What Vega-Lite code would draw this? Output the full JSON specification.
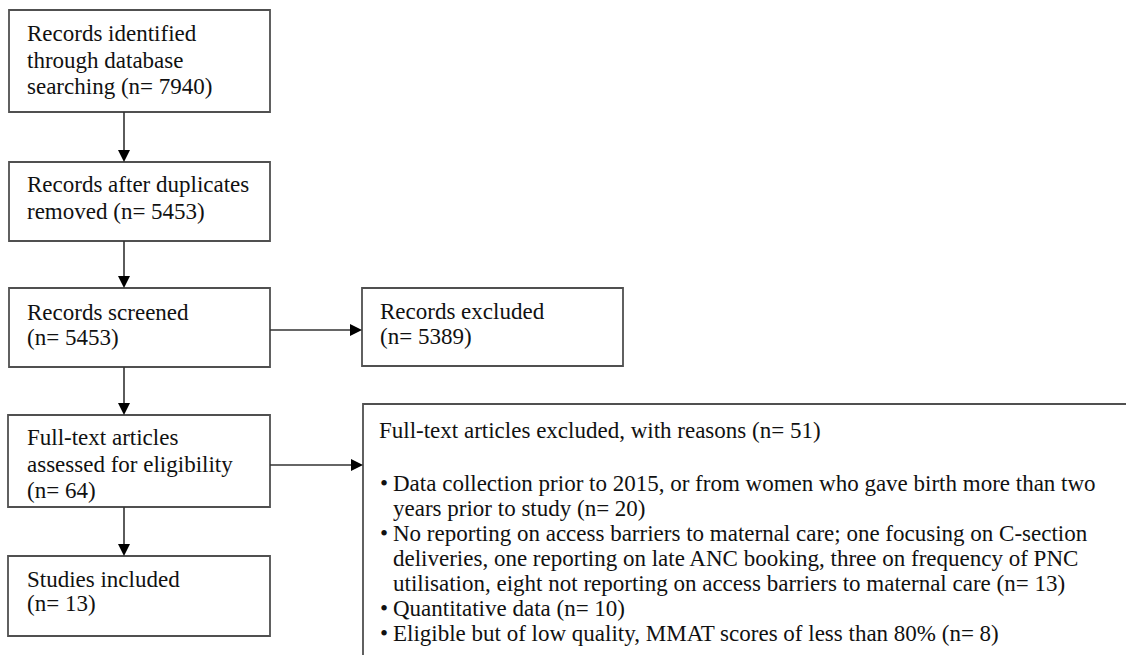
{
  "$schema": "https://vega.github.io/schema/vega-lite/v6.json",
  "width": 1126,
  "height": 655,
  "autosize": {"type": "fit", "contains": "padding"},
  "padding": 0,
  "background": "white",
  "config": {"view": {"stroke": null}},
  "datasets": {
    "boxes": [
      {"id": "identified", "x": 9, "x2": 270, "y": 10, "y2": 112},
      {"id": "dedup", "x": 9, "x2": 270, "y": 162, "y2": 241},
      {"id": "screened", "x": 9, "x2": 270, "y": 288, "y2": 367},
      {"id": "excluded", "x": 362, "x2": 623, "y": 288, "y2": 366},
      {"id": "fulltext", "x": 8, "x2": 270, "y": 415, "y2": 507},
      {"id": "included", "x": 8, "x2": 270, "y": 556, "y2": 636},
      {"id": "reasons", "x": 363, "x2": 1150, "y": 404, "y2": 680}
    ],
    "links": [
      {"from": "identified", "to": "dedup", "x": 124, "x2": 124, "y": 112, "y2": 156},
      {"from": "dedup", "to": "screened", "x": 124, "x2": 124, "y": 241, "y2": 282},
      {"from": "screened", "to": "fulltext", "x": 124, "x2": 124, "y": 367, "y2": 409},
      {"from": "fulltext", "to": "included", "x": 124, "x2": 124, "y": 507, "y2": 550},
      {"from": "screened", "to": "excluded", "x": 270, "x2": 356, "y": 330, "y2": 330},
      {"from": "fulltext", "to": "reasons", "x": 270, "x2": 357, "y": 465, "y2": 465}
    ],
    "heads": [
      {"dir": "down", "x": 124, "y": 156},
      {"dir": "down", "x": 124, "y": 282},
      {"dir": "down", "x": 124, "y": 409},
      {"dir": "down", "x": 124, "y": 550},
      {"dir": "right", "x": 356, "y": 330},
      {"dir": "right", "x": 357, "y": 465}
    ],
    "labels": [
      {"box": "identified", "x": 27, "y": 34, "text": "Records identified"},
      {"box": "identified", "x": 27, "y": 61, "text": "through database"},
      {"box": "identified", "x": 27, "y": 87, "text": "searching (n= 7940)"},
      {"box": "dedup", "x": 27, "y": 185, "text": "Records after duplicates"},
      {"box": "dedup", "x": 27, "y": 212, "text": "removed (n= 5453)"},
      {"box": "screened", "x": 27, "y": 313, "text": "Records screened"},
      {"box": "screened", "x": 27, "y": 338, "text": "(n= 5453)"},
      {"box": "excluded", "x": 380, "y": 312, "text": "Records excluded"},
      {"box": "excluded", "x": 380, "y": 337, "text": "(n= 5389)"},
      {"box": "fulltext", "x": 27, "y": 438, "text": "Full-text articles"},
      {"box": "fulltext", "x": 27, "y": 465, "text": "assessed for eligibility"},
      {"box": "fulltext", "x": 27, "y": 491, "text": "(n= 64)"},
      {"box": "included", "x": 27, "y": 580, "text": "Studies included"},
      {"box": "included", "x": 27, "y": 604, "text": "(n= 13)"},
      {"box": "reasons", "x": 379, "y": 431, "text": "Full-text articles excluded, with reasons (n= 51)"},
      {"box": "reasons", "x": 380, "y": 484, "text": "•"},
      {"box": "reasons", "x": 393, "y": 484, "text": "Data collection prior to 2015, or from women who gave birth more than two"},
      {"box": "reasons", "x": 393, "y": 509, "text": "years prior to study (n= 20)"},
      {"box": "reasons", "x": 380, "y": 534, "text": "•"},
      {"box": "reasons", "x": 393, "y": 534, "text": "No reporting on access barriers to maternal care; one focusing on C-section"},
      {"box": "reasons", "x": 393, "y": 559, "text": "deliveries, one reporting on late ANC booking, three on frequency of PNC"},
      {"box": "reasons", "x": 393, "y": 584, "text": "utilisation, eight not reporting on access barriers to maternal care (n= 13)"},
      {"box": "reasons", "x": 380, "y": 609, "text": "•"},
      {"box": "reasons", "x": 393, "y": 609, "text": "Quantitative data (n= 10)"},
      {"box": "reasons", "x": 380, "y": 634, "text": "•"},
      {"box": "reasons", "x": 393, "y": 634, "text": "Eligible but of low quality, MMAT scores of less than 80% (n= 8)"}
    ]
  },
  "encoding": {
    "x": {"field": "x", "type": "quantitative", "scale": {"domain": [0, 1126], "nice": false, "zero": false}, "axis": null},
    "y": {"field": "y", "type": "quantitative", "scale": {"domain": [655, 0], "nice": false, "zero": false}, "axis": null}
  },
  "layer": [
    {
      "data": {"name": "boxes"},
      "mark": {"type": "rect", "fill": "white", "stroke": "#505050", "strokeWidth": 1.8, "clip": true},
      "encoding": {
        "x2": {"field": "x2"},
        "y2": {"field": "y2"}
      }
    },
    {
      "data": {"name": "links"},
      "mark": {"type": "rule", "stroke": "#333333", "strokeWidth": 1.6},
      "encoding": {
        "x2": {"field": "x2"},
        "y2": {"field": "y2"}
      }
    },
    {
      "data": {"name": "heads"},
      "mark": {"type": "point", "filled": true, "opacity": 1, "size": 144, "color": "black", "strokeWidth": 0},
      "encoding": {
        "shape": {
          "field": "dir",
          "type": "nominal",
          "scale": {"domain": ["down", "right"], "range": ["M-1,-1L1,-1L0,1Z", "M-1,-1L1,0L-1,1Z"]},
          "legend": null
        }
      }
    },
    {
      "data": {"name": "labels"},
      "mark": {"type": "text", "align": "left", "baseline": "middle", "font": "Liberation Serif", "fontSize": 23, "color": "#111111"},
      "encoding": {
        "text": {"field": "text", "type": "nominal"}
      }
    }
  ]
}
